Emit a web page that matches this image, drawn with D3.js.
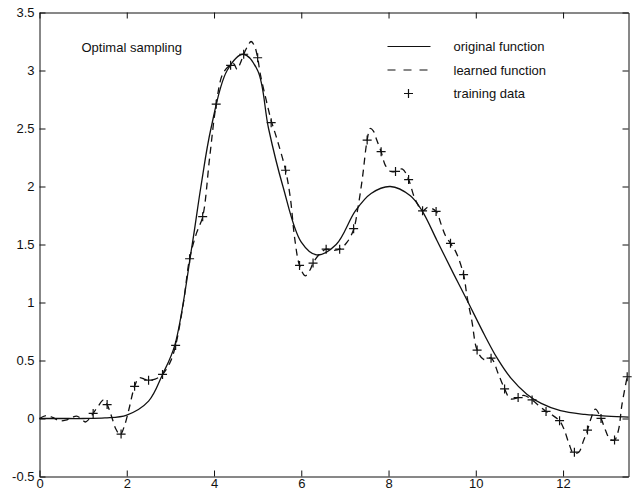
<!DOCTYPE html>
<html>
<head>
<meta charset="utf-8">
<script src="https://cdn.jsdelivr.net/npm/d3@7"></script>
<style>
  body { margin: 0; background: #fff; }
  svg text { font-family: "Liberation Sans", Arial, sans-serif; fill: #111; }
  .axis path, .axis line { stroke: #111; }
</style>
</head>
<body>
<svg id="chart"></svg>
<script>
// original function
const originalX = [0, 0.5, 1, 1.5, 2, 2.5, 2.82, 3.1, 3.5, 3.7, 3.93, 4.3, 4.67, 5.0, 5.25, 5.58, 6.0, 6.35, 6.8, 7.24, 7.6, 8.04, 8.5, 8.77, 9.11, 9.5, 9.8, 10.2, 10.49, 10.8, 11.17, 11.5, 11.94, 12.5, 13.0, 13.5];
const originalY = [0, 0, 0, 0.005, 0.03, 0.15, 0.38, 0.63, 1.5, 2.0, 2.5, 3.0, 3.14, 3.0, 2.5, 2.0, 1.52, 1.41, 1.5, 1.79, 1.94, 2.0, 1.92, 1.79, 1.535, 1.24, 1.02, 0.72, 0.52, 0.35, 0.21, 0.13, 0.067, 0.035, 0.02, 0.012];

// learned function
const learnedX = [0, 0.15, 0.3, 0.45, 0.6, 0.75, 0.85, 0.95, 1.05, 1.15, 1.23, 1.35, 1.47, 1.55, 1.65, 1.75, 1.85, 1.95, 2.05, 2.18, 2.28, 2.4, 2.5, 2.65, 2.82, 3.0, 3.12, 3.3, 3.44, 3.6, 3.74, 3.9, 4.05, 4.2, 4.38, 4.45, 4.53, 4.6, 4.68, 4.77, 4.85, 4.93, 5.0, 5.06, 5.18, 5.31, 5.45, 5.64, 5.75, 5.85, 5.96, 6.09, 6.2, 6.27, 6.4, 6.57, 6.72, 6.88, 7.05, 7.2, 7.3, 7.4, 7.51, 7.58, 7.65, 7.73, 7.83, 7.93, 8.05, 8.16, 8.32, 8.46, 8.6, 8.78, 8.9, 9.09, 9.2, 9.3, 9.42, 9.55, 9.72, 9.8, 9.91, 10.03, 10.18, 10.35, 10.52, 10.66, 10.79, 10.97, 11.1, 11.29, 11.48, 11.61, 11.75, 11.92, 12.02, 12.13, 12.24, 12.36, 12.47, 12.56, 12.64, 12.74, 12.87, 12.97, 13.08, 13.18, 13.27, 13.35, 13.47];
const learnedY = [0, 0.025, 0.01, -0.02, -0.015, 0.01, 0.02, 0, -0.03, 0, 0.044, 0.11, 0.16, 0.12, 0.02, -0.09, -0.14, -0.06, 0.08, 0.277, 0.35, 0.34, 0.33, 0.34, 0.38, 0.49, 0.63, 1.0, 1.377, 1.6, 1.74, 2.25, 2.71, 2.97, 3.05, 3.06, 3.01, 3.06, 3.14, 3.21, 3.25, 3.21, 3.11, 2.97, 2.77, 2.57, 2.4, 2.14, 1.9, 1.55, 1.32, 1.23, 1.28, 1.34, 1.41, 1.46, 1.45, 1.46, 1.52, 1.63, 1.82, 2.07, 2.4, 2.5, 2.48, 2.4, 2.3, 2.18, 2.13, 2.13, 2.15, 2.06, 1.9, 1.79, 1.82, 1.785, 1.68, 1.58, 1.51, 1.43, 1.24, 1.05, 0.84, 0.59, 0.51, 0.52, 0.38, 0.255, 0.17, 0.18, 0.2, 0.16, 0.1, 0.061, 0.03, -0.02, -0.09, -0.21, -0.3, -0.29, -0.19, -0.1, 0, 0.08, 0.001, -0.1, -0.18, -0.186, -0.1, 0.12, 0.36];

// training data (+ markers)
const trainX = [1.23, 1.55, 1.87, 2.18, 2.5, 2.82, 3.12, 3.44, 3.74, 4.05, 4.38, 4.68, 5.0, 5.31, 5.64, 5.96, 6.27, 6.57, 6.88, 7.2, 7.51, 7.83, 8.16, 8.46, 8.78, 9.09, 9.42, 9.72, 10.03, 10.35, 10.66, 10.97, 11.29, 11.61, 11.92, 12.26, 12.56, 12.87, 13.18, 13.47];
const trainY = [0.044, 0.12, -0.134, 0.277, 0.33, 0.38, 0.63, 1.377, 1.74, 2.71, 3.045, 3.14, 3.11, 2.55, 2.14, 1.32, 1.34, 1.46, 1.46, 1.636, 2.4, 2.3, 2.13, 2.06, 1.79, 1.785, 1.51, 1.24, 0.59, 0.52, 0.255, 0.18, 0.16, 0.061, -0.019, -0.29, -0.1, 0.001, -0.186, 0.36];

const xTicks = [0, 2, 4, 6, 8, 10, 12];
const yTicks = [-0.5, 0, 0.5, 1, 1.5, 2, 2.5, 3, 3.5];
const xDomain = [0, 13.5];
const yDomain = [-0.5, 3.5];
const legendLabels = ['original function', 'learned function', 'training data'];
const titleText = 'Optimal sampling';

class SamplingChart {
  constructor(_config) {
    this.config = {
      parentElement: _config.parentElement,
      containerWidth: 632,
      containerHeight: 493,
      margin: {
        top: 12, right: 4, bottom: 17, left: 39,
      },
    };
    this.initVis();
  }

  initVis() {
    const vis = this;

    vis.width = vis.config.containerWidth - vis.config.margin.left - vis.config.margin.right;
    vis.height = vis.config.containerHeight - vis.config.margin.top - vis.config.margin.bottom;

    vis.xScale = d3.scaleLinear().domain(xDomain).range([0, vis.width]);
    vis.yScale = d3.scaleLinear().domain(yDomain).range([vis.height, 0]);

    vis.svg = d3.select(vis.config.parentElement)
      .attr('width', vis.config.containerWidth)
      .attr('height', vis.config.containerHeight);

    vis.chart = vis.svg.append('g')
      .attr('transform', `translate(${vis.config.margin.left + 0.5},${vis.config.margin.top + 0.5})`);

    // ticks point inward on all four sides, labels only left and bottom
    const fmt = (d) => String(d);
    vis.chart.append('g')
      .attr('class', 'axis')
      .attr('transform', `translate(0,${vis.height})`)
      .call(d3.axisBottom(vis.xScale).tickValues(xTicks).tickSize(-6).tickPadding(2).tickSizeOuter(0).tickFormat(fmt));
    vis.chart.append('g')
      .attr('class', 'axis')
      .call(d3.axisLeft(vis.yScale).tickValues(yTicks).tickSize(-6).tickPadding(5).tickSizeOuter(0).tickFormat(fmt));
    vis.chart.append('g')
      .attr('class', 'axis')
      .call(d3.axisTop(vis.xScale).tickValues(xTicks).tickSize(-6).tickSizeOuter(0).tickFormat(''));
    vis.chart.append('g')
      .attr('class', 'axis')
      .attr('transform', `translate(${vis.width},0)`)
      .call(d3.axisRight(vis.yScale).tickValues(yTicks).tickSize(-6).tickSizeOuter(0).tickFormat(''));

    vis.chart.selectAll('.axis text')
      .style('font-size', '13px');

    vis.renderVis();
    vis.insertText();
  }

  renderVis() {
    const vis = this;
    const line = d3.line()
      .x((d) => vis.xScale(d[0]))
      .y((d) => vis.yScale(d[1]))
      .curve(d3.curveCatmullRom.alpha(0.5));

    vis.chart.append('path')
      .datum(originalX.map((x, i) => [x, originalY[i]]))
      .attr('d', line)
      .attr('fill', 'none')
      .attr('stroke', '#111')
      .attr('stroke-width', 1.3);

    vis.chart.append('path')
      .datum(learnedX.map((x, i) => [x, learnedY[i]]))
      .attr('d', line)
      .attr('fill', 'none')
      .attr('stroke', '#111')
      .attr('stroke-width', 1.3)
      .attr('stroke-dasharray', '7,5');

    vis.chart.selectAll('.train')
      .data(trainX.map((x, i) => [x, trainY[i]]))
      .join('path')
      .attr('class', 'train')
      .attr('transform', (d) => `translate(${vis.xScale(d[0])},${vis.yScale(d[1])})`)
      .attr('d', 'M-4.5,0H4.5M0,-4.5V4.5')
      .attr('fill', 'none')
      .attr('stroke', '#111')
      .attr('stroke-width', 1.2);
  }

  insertText() {
    const vis = this;

    vis.chart.append('text')
      .attr('x', 42)
      .attr('y', 39)
      .style('font-size', '13px')
      .text(titleText);

    // legend
    const legend = vis.chart.append('g')
      .attr('transform', 'translate(348,34)');
    legendLabels.forEach((label, i) => {
      const y = i * 23.5;
      if (i === 0) {
        legend.append('line').attr('x1', 0).attr('x2', 43).attr('y1', y).attr('y2', y)
          .attr('stroke', '#111').attr('stroke-width', 1.2);
      } else if (i === 1) {
        legend.append('line').attr('x1', 0).attr('x2', 43).attr('y1', y).attr('y2', y)
          .attr('stroke', '#111').attr('stroke-width', 1.2)
          .attr('stroke-dasharray', '8,8');
      } else {
        legend.append('path')
          .attr('transform', `translate(21,${y})`)
          .attr('d', 'M-4.5,0H4.5M0,-4.5V4.5')
          .attr('stroke', '#111').attr('stroke-width', 1.2);
      }
      legend.append('text')
        .attr('x', 66)
        .attr('y', y + 4.5)
        .style('font-size', '13px')
        .text(label);
    });
  }
}

new SamplingChart({ parentElement: '#chart' });
</script>
</body>
</html>
